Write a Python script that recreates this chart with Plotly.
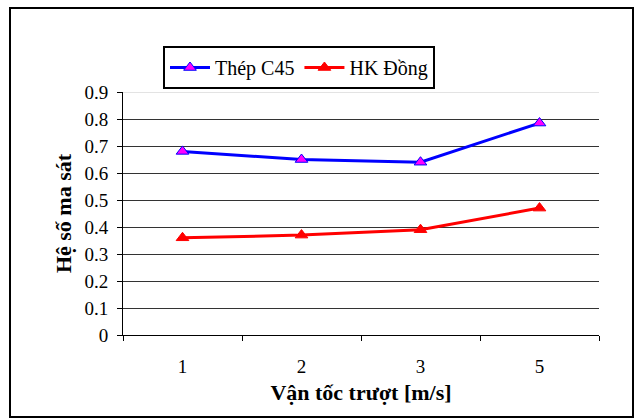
import plotly.graph_objects as go

categories = ["1", "2", "3", "5"]
thep_c45 = [0.68, 0.65, 0.64, 0.785]
hk_dong = [0.36, 0.37, 0.39, 0.47]
y_ticks = [0, 0.1, 0.2, 0.3, 0.4, 0.5, 0.6, 0.7, 0.8, 0.9]

FONT = "'Liberation Serif', 'Times New Roman', serif"

fig = go.Figure()
fig.add_trace(go.Scatter(
    x=categories, y=thep_c45, name="Thép C45", mode="lines+markers",
    line=dict(color="#0000FF", width=3),
    marker=dict(symbol="triangle-up", size=11, color="#FF00FF",
                line=dict(color="#0000FF", width=1)),
))
fig.add_trace(go.Scatter(
    x=categories, y=hk_dong, name="HK Đồng", mode="lines+markers",
    line=dict(color="#FF0000", width=3),
    marker=dict(symbol="triangle-up", size=11, color="#FF0000",
                line=dict(color="#FF0000", width=1)),
))

L, R, T, B = 123, 36, 92, 84
W, H = 635, 419
pw = W - L - R
ph = H - T - B

fig.update_layout(
    width=W, height=H,
    margin=dict(l=L, r=R, t=T, b=B),
    paper_bgcolor="white", plot_bgcolor="white",
    font=dict(family=FONT, size=19, color="black"),
    showlegend=True,
    legend=dict(
        orientation="h", x=(163 - L) / pw, y=(H - B - 46) / ph,
        xanchor="left", yanchor="top",
        bordercolor="black", borderwidth=2, bgcolor="white",
        font=dict(family=FONT, size=20, color="black"),
        itemwidth=40,
    ),
    xaxis=dict(
        type="category", range=[-0.5, 3.5], tickson="boundaries", ticks="outside", ticklen=5,
        tickcolor="black", showline=True, linecolor="black", linewidth=1,
        showgrid=False, tickfont=dict(family=FONT, size=19), ticklabelstandoff=14,
        title=dict(text="<b>Vận tốc trượt [m/s]</b>", font=dict(family=FONT, size=22), standoff=8),
    ),
    yaxis=dict(
        range=[0, 0.9], tickvals=y_ticks, ticktext=[f"{v:g}" for v in y_ticks],
        ticks="outside", ticklen=5, tickcolor="black", ticklabelstandoff=5,
        showline=True, linecolor="black", linewidth=1,
        showgrid=True, gridcolor="#333333", gridwidth=1, zeroline=False,
        tickfont=dict(family=FONT, size=19),
        title=dict(text="<b>Hệ số ma sát</b>", font=dict(family=FONT, size=22), standoff=6),
    ),
    shapes=[
        dict(type="line", xref="paper", yref="y", x0=0, x1=1, y0=y_ticks[-1], y1=y_ticks[-1],
             line=dict(color="#c8c8c8", width=1)),
        dict(type="rect", xref="paper", yref="paper",
             x0=(10 - L) / pw, x1=(633 - L) / pw,
             y0=(H - B - 417) / ph, y1=(H - B - 8) / ph,
             line=dict(color="black", width=2), layer="below"),
    ],
)

fig.write_html("out.html")
